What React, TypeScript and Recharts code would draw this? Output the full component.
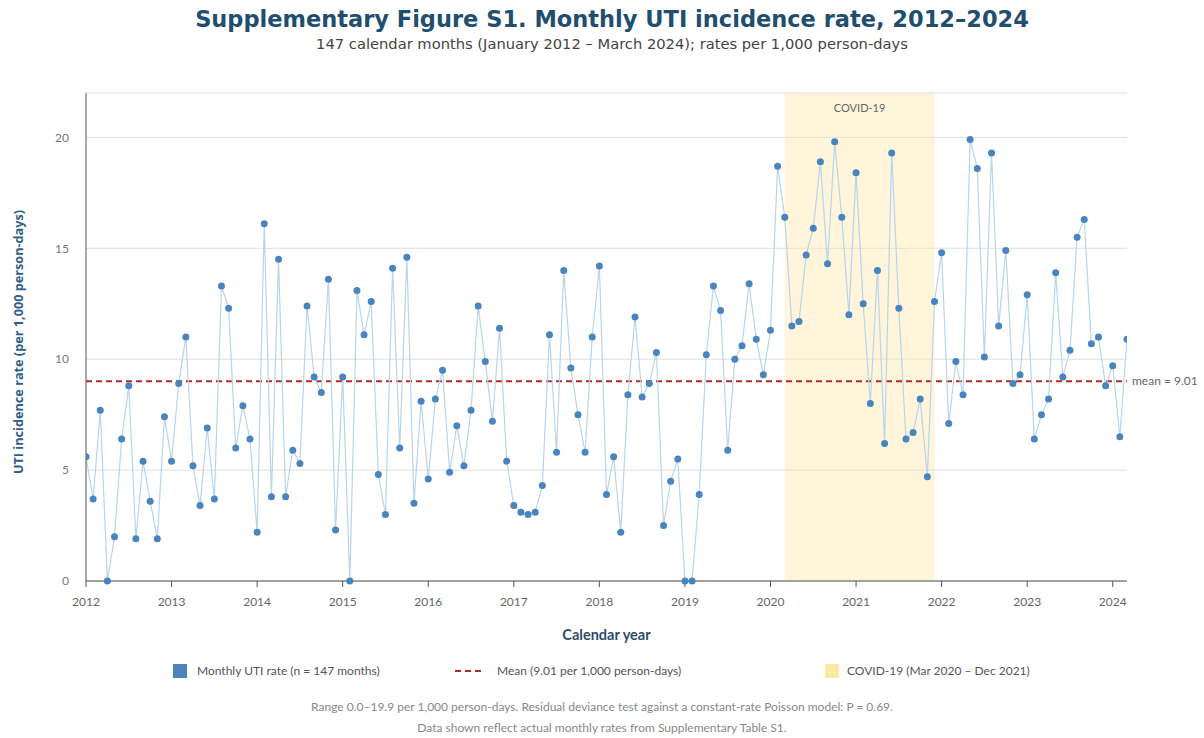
import { LineChart, Line, XAxis, YAxis, CartesianGrid, ReferenceLine, ReferenceArea } from 'recharts';

const startYear = 2012;
const yearTicks = [2012, 2013, 2014, 2015, 2016, 2017, 2018, 2019, 2020, 2021, 2022, 2023, 2024];
const rateTicks = [0, 5, 10, 15, 20];

// Jan 2012 .. Mar 2024, rates per 1,000 person-days
const monthlyRates = [
  5.6, 3.7, 7.7, 0.0, 2.0, 6.4, 8.8, 1.9, 5.4, 3.6, 1.9, 7.4,
  5.4, 8.9, 11.0, 5.2, 3.4, 6.9, 3.7, 13.3, 12.3, 6.0, 7.9, 6.4,
  2.2, 16.1, 3.8, 14.5, 3.8, 5.9, 5.3, 12.4, 9.2, 8.5, 13.6, 2.3,
  9.2, 0.0, 13.1, 11.1, 12.6, 4.8, 3.0, 14.1, 6.0, 14.6, 3.5, 8.1,
  4.6, 8.2, 9.5, 4.9, 7.0, 5.2, 7.7, 12.4, 9.9, 7.2, 11.4, 5.4,
  3.4, 3.1, 3.0, 3.1, 4.3, 11.1, 5.8, 14.0, 9.6, 7.5, 5.8, 11.0,
  14.2, 3.9, 5.6, 2.2, 8.4, 11.9, 8.3, 8.9, 10.3, 2.5, 4.5, 5.5,
  0.0, 0.0, 3.9, 10.2, 13.3, 12.2, 5.9, 10.0, 10.6, 13.4, 10.9, 9.3,
  11.3, 18.7, 16.4, 11.5, 11.7, 14.7, 15.9, 18.9, 14.3, 19.8, 16.4, 12.0,
  18.4, 12.5, 8.0, 14.0, 6.2, 19.3, 12.3, 6.4, 6.7, 8.2, 4.7, 12.6,
  14.8, 7.1, 9.9, 8.4, 19.9, 18.6, 10.1, 19.3, 11.5, 14.9, 8.9, 9.3,
  12.9, 6.4, 7.5, 8.2, 13.9, 9.2, 10.4, 15.5, 16.3, 10.7, 11.0, 8.8,
  9.7, 6.5, 10.9,
];

const meanRate = 9.01;
const covidStart = 2020 + 2 / 12;
const covidEnd = 2021 + 11 / 12;

const data = monthlyRates.map((rate, i) => ({ t: startYear + i / 12, rate }));
const lastT = startYear + (monthlyRates.length - 1) / 12;

const navy = '#1f4e6e';
const dotBlue = '#4a84bf';

export default function App() {
  return (
    <div
      style={{
        position: 'absolute',
        left: 0,
        top: 0,
        width: 1204,
        height: 738,
        background: '#fff',
        fontFamily: 'Lato, sans-serif',
        overflow: 'hidden',
      }}
    >
      <div
        style={{
          position: 'absolute',
          top: 6,
          left: 10,
          width: 1204,
          textAlign: 'center',
          fontFamily: '"DejaVu Sans", sans-serif',
          fontWeight: 'bold',
          fontSize: 22.5,
          color: navy,
        }}
      >
        Supplementary Figure S1. Monthly UTI incidence rate, 2012–2024
      </div>
      <div
        style={{
          position: 'absolute',
          top: 35,
          left: 10,
          width: 1204,
          textAlign: 'center',
          fontFamily: '"DejaVu Sans", sans-serif',
          fontSize: 14.7,
          color: '#444',
        }}
      >
        147 calendar months (January 2012 – March 2024); rates per 1,000 person-days
      </div>

      <div style={{ position: 'absolute', left: 0, top: 0 }}>
        <LineChart width={1204} height={738} data={data} margin={{ top: 93, right: 77, bottom: 127, left: 26 }}>
          <CartesianGrid vertical={false} stroke="#dedede" />
          <ReferenceArea
            x1={covidStart}
            x2={covidEnd}
            y1={0}
            y2={22}
            fill="#fce7a6"
            fillOpacity={0.4}
            stroke="none"
            label={{ value: 'COVID-19', position: 'insideTop', offset: 11, fill: '#666', fontSize: 11 }}
          />
          <XAxis
            type="number"
            dataKey="t"
            domain={[startYear, lastT]}
            ticks={yearTicks}
            allowDataOverflow
            height={30}
            tickSize={6}
            tickMargin={10}
            stroke="#555"
            tick={{ fill: '#666', fontSize: 12 }}
          />
          <YAxis
            type="number"
            domain={[0, 22]}
            ticks={rateTicks}
            width={60}
            tickLine={false}
            tickMargin={11}
            stroke="#555"
            tick={{ fill: '#777', fontSize: 12 }}
          />
          <ReferenceLine
            y={meanRate}
            stroke="#b22a2a"
            strokeWidth={2}
            strokeDasharray="6 4"
            label={{ value: 'mean = 9.01', position: 'right', fill: '#666', fontSize: 12 }}
          />
          <Line
            type="linear"
            dataKey="rate"
            stroke="#b8d5eb"
            strokeWidth={1.2}
            dot={{ r: 3.5, fill: dotBlue, stroke: 'none' }}
            activeDot={false}
            isAnimationActive={false}
          />
        </LineChart>
      </div>

      <div
        style={{
          position: 'absolute',
          left: 18,
          top: 342,
          transform: 'translate(-50%, -50%) rotate(-90deg)',
          whiteSpace: 'nowrap',
          fontFamily: '"Open Sans", sans-serif',
          fontWeight: 'bold',
          fontSize: 12.7,
          color: '#2f5e88',
        }}
      >
        UTI incidence rate (per 1,000 person-days)
      </div>

      <div
        style={{
          position: 'absolute',
          left: 86,
          width: 1041,
          top: 626,
          textAlign: 'center',
          fontWeight: 'bold',
          fontSize: 14.5,
          color: '#2d4d6b',
        }}
      >
        Calendar year
      </div>

      <div style={{ position: 'absolute', top: 663, left: 0, width: 1204, height: 16, fontSize: 12, color: '#555' }}>
        <div style={{ position: 'absolute', left: 173, top: 1, width: 14, height: 14, background: dotBlue }} />
        <div style={{ position: 'absolute', left: 197, top: 0 }}>Monthly UTI rate (n = 147 months)</div>
        <svg style={{ position: 'absolute', left: 455, top: 6 }} width={30} height={4}>
          <line x1={0} y1={2} x2={30} y2={2} stroke="#b22a2a" strokeWidth={2} strokeDasharray="6 4" />
        </svg>
        <div style={{ position: 'absolute', left: 497, top: 0 }}>Mean (9.01 per 1,000 person-days)</div>
        <div style={{ position: 'absolute', left: 825, top: 1, width: 14, height: 14, background: '#fde7a4' }} />
        <div style={{ position: 'absolute', left: 847, top: 0 }}>COVID-19 (Mar 2020 – Dec 2021)</div>
      </div>

      <div style={{ position: 'absolute', top: 699, width: '100%', textAlign: 'center', fontSize: 12, color: '#888' }}>
        Range 0.0–19.9 per 1,000 person-days. Residual deviance test against a constant-rate Poisson model: P = 0.69.
      </div>
      <div style={{ position: 'absolute', top: 720, width: '100%', textAlign: 'center', fontSize: 12, color: '#888' }}>
        Data shown reflect actual monthly rates from Supplementary Table S1.
      </div>
    </div>
  );
}
